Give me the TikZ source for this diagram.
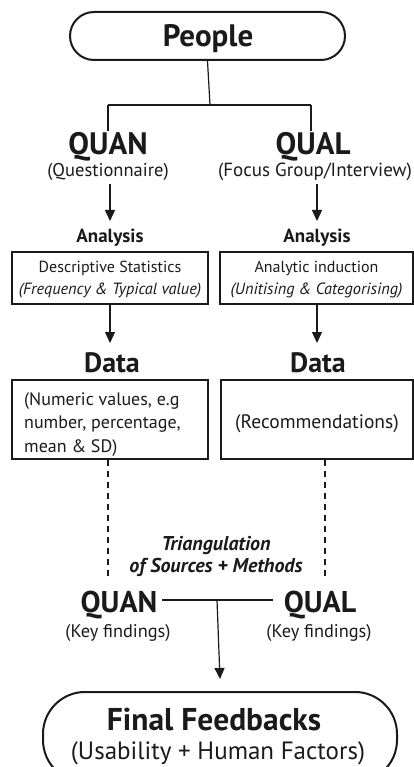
\documentclass[tikz,border=0pt]{standalone}
\usepackage{fontspec}
\setmainfont{PT Sans}
\usetikzlibrary{arrows.meta,calc}
\definecolor{ink}{HTML}{1A1A1A}
\tikzset{
  stadium/.style={draw=ink,line width=2pt,inner sep=0pt},
  panel/.style={draw=ink,line width=1.3pt,inner sep=0pt},
  conn/.style={draw=ink,line width=1.2pt},
  arr/.style={conn,-{Triangle[length=11pt,width=10pt]}},
  dashconn/.style={draw=ink,line width=1.1pt,dash pattern=on 6pt off 5pt},
  lbl/.style={inner sep=0pt,text=ink,align=center,anchor=base},
  big/.style={font=\fontsize{31}{34}\selectfont\bfseries},
}
\begin{document}
\begin{tikzpicture}[x=1pt,y=-1pt]
\useasboundingbox (0,0) rectangle (414,767);
\clip (0,0) rectangle (414,767);
% top
\node[stadium,minimum width=275pt,minimum height=48pt,rounded corners=24pt] (people) at (207.5,36) {};
\node[lbl,big] (peopleT) at (208,47) {People};
\coordinate (jc) at (210,105);
\coordinate (jl) at (108,105);
\coordinate (jr) at (311,105);
\coordinate (jl2) at (108,131);
\coordinate (jr2) at (311,131);
\node[lbl,big] (quan) at (108,155) {QUAN};
\node[lbl,font=\fontsize{18.5}{21}\selectfont] (quanS) at (108,177) {(Questionnaire)};
\node[lbl,big] (qual) at (313,155) {QUAL};
\node[lbl,font=\fontsize{19}{21}\selectfont] (qualS) at (315,177) {(Focus Group/Interview)};
\draw[conn] (people.south) -- (jc);
\draw[conn] (jl) -- (jr);
\draw[conn] (jl) -- (jl2);
\draw[conn] (jr) -- (jr2);
% analysis
\node[lbl,font=\fontsize{19}{21}\selectfont\bfseries] (anl) at (110,242) {Analysis};
\node[lbl,font=\fontsize{19}{21}\selectfont\bfseries] (anr) at (317,242) {Analysis};
\coordinate (al0) at (110,184);
\coordinate (al1) at (110,221);
\coordinate (ar0) at (317,184);
\coordinate (ar1) at (317,221);
\draw[arr] (al0) -- (al1);
\draw[arr] (ar0) -- (ar1);
\node[panel,minimum width=196pt,minimum height=52pt] (boxl) at (110,278) {};
\node[lbl,font=\fontsize{16}{19}\selectfont] (boxlA) at (110,272) {Descriptive Statistics};
\node[lbl,font=\fontsize{16.3}{19}\selectfont\itshape] (boxlB) at (110,294) {(Frequency \& Typical value)};
\node[panel,minimum width=193pt,minimum height=52pt] (boxr) at (316.5,278) {};
\node[lbl,font=\fontsize{16}{19}\selectfont] (boxrA) at (316.5,272) {Analytic induction};
\node[lbl,font=\fontsize{16.3}{19}\selectfont\itshape] (boxrB) at (316.5,294) {(Unitising \& Categorising)};
% data
\node[lbl,font=\fontsize{28}{31}\selectfont\bfseries] (datl) at (112,372) {Data};
\node[lbl,font=\fontsize{28}{31}\selectfont\bfseries] (datr) at (318,372) {Data};
\coordinate (dtl) at (110,343);
\coordinate (dtr) at (317,343);
\draw[arr] (boxl.south) -- (dtl);
\draw[arr] (boxr.south -| dtr) -- (dtr);
\node[panel,minimum width=196pt,minimum height=79pt] (dbl) at (110,419.5) {};
\node[lbl,font=\fontsize{18}{23.5}\selectfont,align=left,anchor=base west] (dblT) at (24,452) {(Numeric values, e.g\\number, percentage,\\mean \& SD)};
\node[panel,minimum width=192pt,minimum height=79pt] (dbr) at (317,419.5) {};
\node[lbl,font=\fontsize{19.5}{22}\selectfont] (dbrT) at (317,428) {(Recommendations)};
% triangulation
\coordinate (dl1) at (108,579);
\coordinate (dr1) at (325,579);
\draw[dashconn] (dbl.south -| dl1) -- (dl1);
\draw[dashconn] (dbr.south -| dr1) -- (dr1);
\node[lbl,font=\fontsize{20}{23}\selectfont\bfseries\itshape] (tri1) at (216,550) {Triangulation};
\node[lbl,font=\fontsize{20}{23}\selectfont\bfseries\itshape] (tri2) at (216,572) {of Sources + Methods};
% findings
\node[lbl,font=\fontsize{30}{33}\selectfont\bfseries] (quan2) at (119,612) {QUAN};
\node[lbl,font=\fontsize{30}{33}\selectfont\bfseries] (qual2) at (320,612) {QUAL};
\node[lbl,font=\fontsize{18.3}{21}\selectfont] (kf1) at (118,637) {(Key findings)};
\node[lbl,font=\fontsize{18.3}{21}\selectfont] (kf2) at (319,637) {(Key findings)};
\coordinate (hl) at (162,600);
\coordinate (hr) at (273,600);
\coordinate (jb) at (217,600);
\draw[conn] (hl) -- (hr);
% final
\node[stadium,minimum width=354pt,minimum height=90pt,rounded corners=42pt] (final) at (220,737) {};
\node[lbl,font=\fontsize{31.5}{34}\selectfont\bfseries] (finT) at (214,730) {Final Feedbacks};
\node[lbl,font=\fontsize{25}{28}\selectfont] (finS) at (218,759) {(Usability + Human Factors)};
\draw[arr] (jb) -- (final.north |- 0,679);
\end{tikzpicture}
\end{document}
